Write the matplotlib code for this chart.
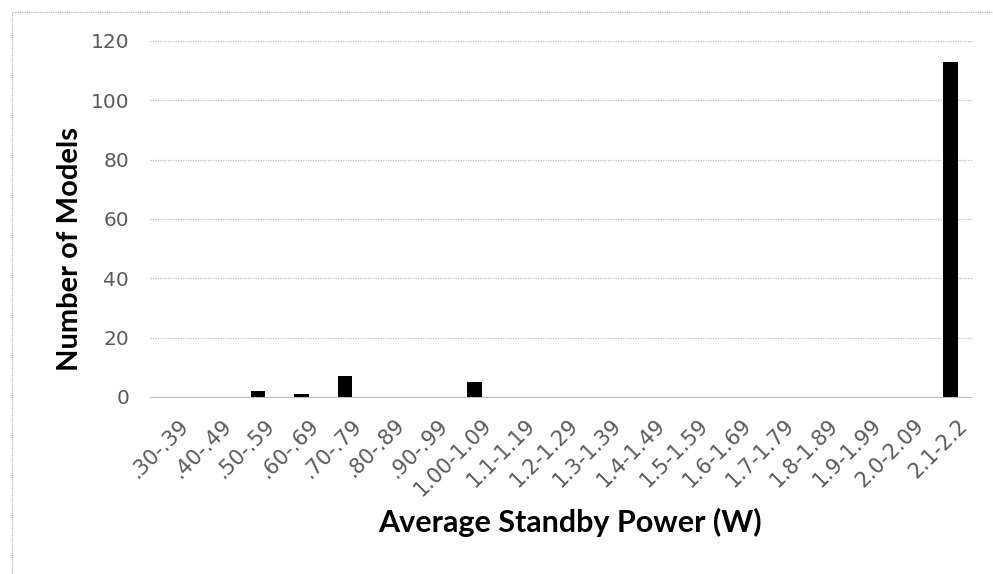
import matplotlib.pyplot as plt
import matplotlib.transforms as mtransforms
from matplotlib.patches import Rectangle

categories = ['.30-.39', '.40-.49', '.50-.59', '.60-.69', '.70-.79', '.80-.89',
              '.90-.99', '1.00-1.09', '1.1-1.19', '1.2-1.29', '1.3-1.39',
              '1.4-1.49', '1.5-1.59', '1.6-1.69', '1.7-1.79', '1.8-1.89',
              '1.9-1.99', '2.0-2.09', '2.1-2.2']
models = [0, 0, 2, 1, 7, 0, 0, 5, 0, 0, 0, 0, 0, 0, 0, 0, 0, 0, 113]
y_ticks = [0, 20, 40, 60, 80, 100, 120]

plt.rcParams['font.family'] = ['DejaVu Sans']

fig = plt.figure(figsize=(9.93, 5.74), dpi=100)
W, H = 993, 574
ax = fig.add_axes([150 / W, 1 - 397 / H, 822 / W, 356 / H])

x = list(range(len(categories)))
ax.bar(x, models, width=0.33, color='black', zorder=3)

ax.set_xlim(-0.5, len(categories) - 0.5)
ax.set_ylim(0, 120)
ax.set_yticks(y_ticks)
ax.set_xticks(x)
ax.set_xticklabels(categories, rotation=45, ha='right', rotation_mode='anchor')
ax.yaxis.grid(True, color='#bdbdbd', linestyle=(0, (1, 1)), linewidth=0.9)
ax.set_axisbelow(True)
for side in ['top', 'right', 'left']:
    ax.spines[side].set_visible(False)
ax.spines['bottom'].set_color('#bdbdbd')
ax.spines['bottom'].set_linestyle((0, (1, 1)))
ax.tick_params(axis='both', length=0, colors='#5a5a5a')
ax.tick_params(axis='y', pad=15, labelsize=14.5)
ax.tick_params(axis='x', pad=13, labelsize=15)

# nudge rotated tick labels a bit to the right like the original
shift = mtransforms.ScaledTranslation(7 / 100, 0, fig.dpi_scale_trans)
for lbl in ax.get_xticklabels():
    lbl.set_transform(lbl.get_transform() + shift)

fig.text(70 / W, 1 - 249 / H, 'Number of Models', rotation=90, ha='center',
         va='center', fontsize=21, fontweight='bold', family='Lato')
fig.text(570 / W, 1 - 522 / H, 'Average Standby Power (W)', ha='center',
         va='center', fontsize=22, fontweight='bold', family='Lato')

# dotted frame around the chart area
fig.patches.append(Rectangle((12 / W, -0.05), 1.05, 1 - 12 / H + 0.05,
                             transform=fig.transFigure, fill=False,
                             edgecolor='#aaaaaa', linestyle=(0, (1, 1)),
                             linewidth=0.8))

fig.savefig('out.png', dpi=100)
